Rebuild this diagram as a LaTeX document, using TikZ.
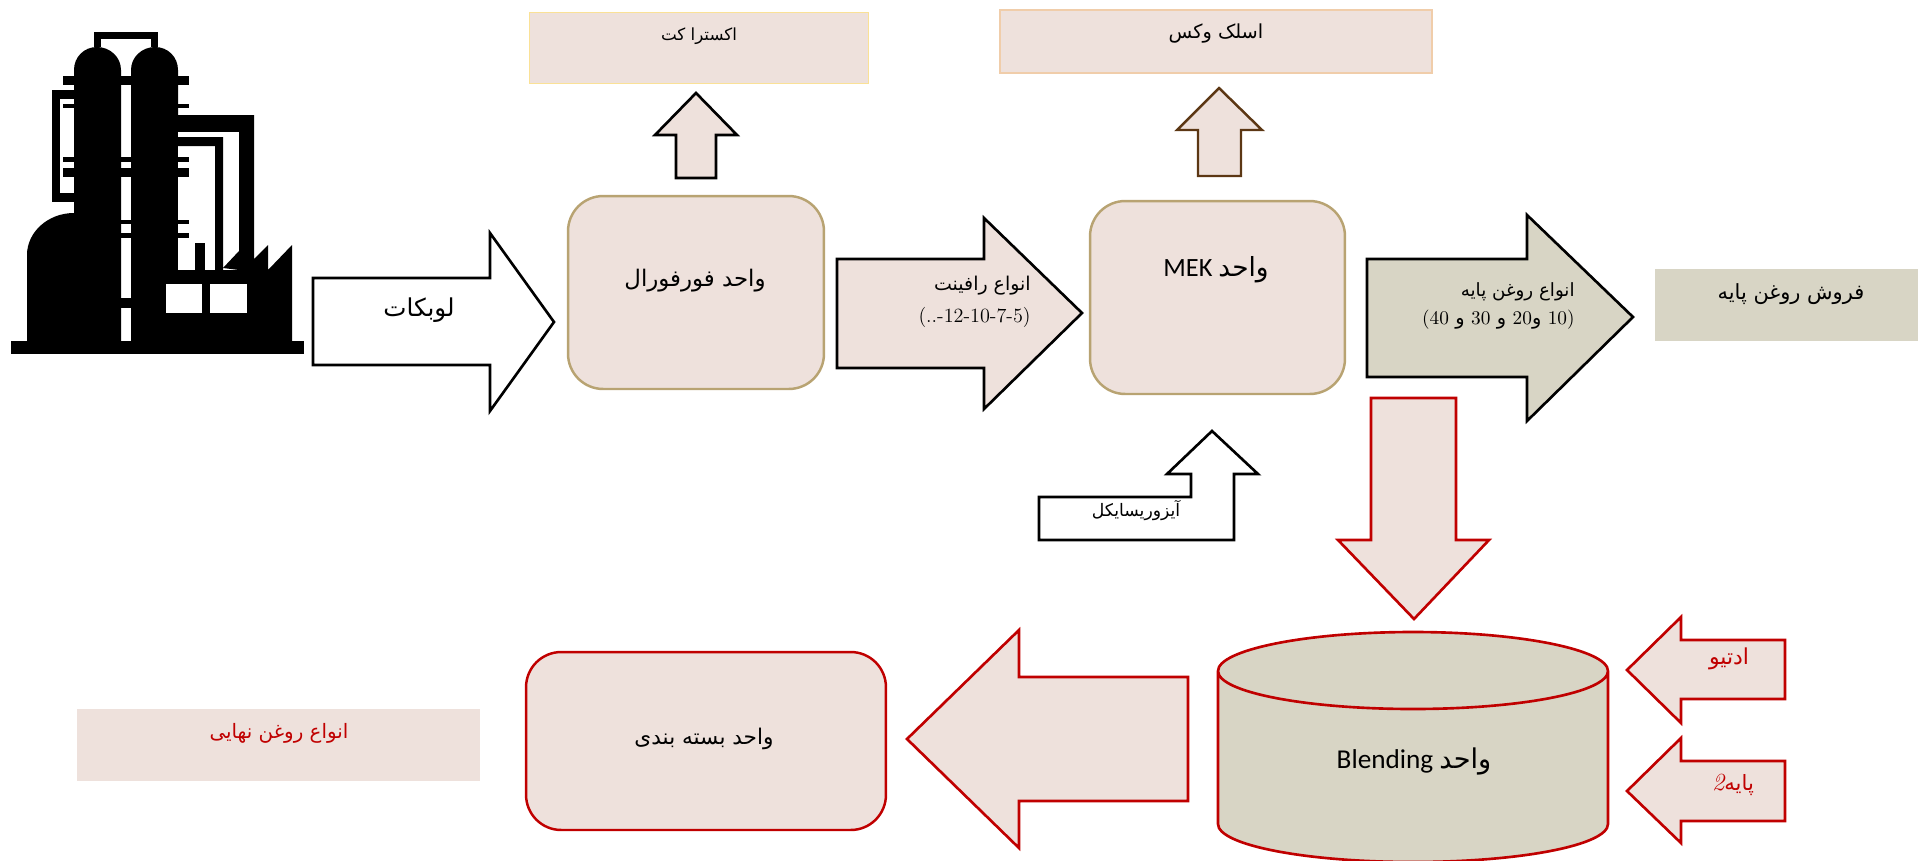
\documentclass[tikz,border=0pt]{standalone}
\usepackage{fontspec}
\setmainfont{Carlito}
\newfontfamily\farsi[Script=Arabic]{DejaVu Sans}
\newfontfamily\numfont{Latin Modern Roman}
\TeXXeTstate=1
\newcommand{\fa}[1]{{\farsi\beginR #1\endR}}
\definecolor{rosefill}{RGB}{238,225,220}
\definecolor{khakifill}{RGB}{216,213,197}
\definecolor{tanline}{RGB}{184,163,114}
\definecolor{redline}{RGB}{192,0,0}
\definecolor{brownline}{RGB}{92,55,20}
\tikzset{
  blockblack/.style={draw=black, line width=1.5pt, miter limit=10},
  blockred/.style={draw=redline, line width=1.5pt, miter limit=10},
  unitbox/.style={draw=tanline, line width=1.4pt, fill=rosefill, rounded corners=20pt},
  redbox/.style={draw=redline, line width=1.4pt, fill=rosefill, rounded corners=20pt},
  lbl/.style={inner sep=0pt, font=\fontsize{#1}{16}\selectfont},
}
\begin{document}
\begin{tikzpicture}[x=0.02cm, y=-0.02cm]
\useasboundingbox (0,0) rectangle (1918,860);
% plant silhouette
\fill (11,341) rectangle (304,354);
\fill (27,341) -- (27,255) .. controls (27,232) and (48,213) .. (74,213) -- (74,70) .. controls (74,57) and (84,47) .. (97,47) .. controls (110,47) and (121,57) .. (121,70) -- (121,341) -- cycle;
\fill (131,341) -- (131,70) .. controls (131,57) and (142,47) .. (155,47) .. controls (168,47) and (178,57) .. (178,70) -- (178,115) -- (254,115) -- (254,259) -- (268,245) -- (268,270) -- (292,245) -- (292,341) -- cycle;
\fill[white] (178,132) rectangle (239,270);
\fill (178,137) -- (223,137) -- (223,270) -- (215,270) -- (215,146) -- (178,146) -- cycle;
\fill (223,268) -- (239,251) -- (239,270) -- cycle;
\fill (178,270) rectangle (239,285);
\fill (195,243) rectangle (205,275);
\fill[white] (166,284) rectangle (202,313);
\fill[white] (210,284) rectangle (247,313);
\draw[line width=3.7pt] (97.5,47) -- (97.5,35.5) -- (154.5,35.5) -- (154.5,47);
\draw[line width=4.6pt] (74,94.5) -- (56,94.5) -- (56,197.5) -- (74,197.5);
\foreach \yy/\hh in {76/9, 157/5, 168/9, 220/4, 233/5} {
  \fill (63,\yy) rectangle (189,\yy+\hh);
}
\fill (63,104) rectangle (74,108);
\fill (178,104) rectangle (189,108);
\fill (121,298) rectangle (131,308);
% feed arrow
\draw[blockblack, fill=white] (313,278) -- (490,278) -- (490,233) -- (554,322) -- (490,411) -- (490,365) -- (313,365) -- cycle;
\node[lbl=14] (feedlabel) at (419,310) {\fa{لوبکات}};
% furfural unit
\node[unitbox, minimum width=256*0.569pt, minimum height=193*0.569pt] (furfural) at (696,292.5) {};
\node[lbl=13] (furfurallabel) at (695,281) {\fa{واحد فورفورال}};
\draw[blockblack, fill=rosefill] (676,178) -- (676,135) -- (655,135) -- (696,93) -- (737,135) -- (716,135) -- (716,178) -- cycle;
\node[draw={rgb,255:red,250;green,225;blue,150}, line width=1pt, fill=rosefill, minimum width=339*0.569pt, minimum height=71*0.569pt] (extractbox) at (699,48) {};
\node[lbl=9.5] (extractlabel) at (699,36) {\fa{اکسترا کت}};
% raffinate arrow
\draw[blockblack, fill=rosefill] (837,259) -- (984,259) -- (984,218) -- (1082,313) -- (984,409) -- (984,368) -- (837,368) -- cycle;
\node[lbl=10.8, anchor=east, align=right] (raffinatelabel) at (1031,302) {\fa{انواع رافینت}\\[2pt]{\fontsize{11.5}{16}\selectfont\numfont(..-12-10-7-5)}};
% MEK unit
\node[unitbox, minimum width=255*0.569pt, minimum height=193*0.569pt] (mekunit) at (1217.5,297.5) {};
\node[lbl=15] (meklabel) at (1216,270) {MEK \fa{واحد}};
\draw[draw=brownline, line width=1.4pt, fill=rosefill, miter limit=10] (1198,176) -- (1198,130) -- (1177,130) -- (1219,88) -- (1262,130) -- (1241,130) -- (1241,176) -- cycle;
\node[draw={rgb,255:red,240;green,205;blue,170}, line width=1pt, fill=rosefill, minimum width=432*0.569pt, minimum height=63*0.569pt] (waxbox) at (1216,41.5) {};
\node[lbl=11] (waxlabel) at (1216,34) {\fa{اسلک وکس}};
% recycle bent arrow
\draw[blockblack, fill=white] (1039,497) -- (1191,497) -- (1191,474) -- (1167,474) -- (1212,431) -- (1258,474) -- (1234,474) -- (1234,540) -- (1039,540) -- cycle;
\node[lbl=9.8] (recyclelabel) at (1136,511) {\fa{آیزوریسایکل}};
% base oil arrow
\draw[blockblack, fill=khakifill] (1367,259) -- (1527,259) -- (1527,215) -- (1633,317) -- (1527,421) -- (1527,377) -- (1367,377) -- cycle;
\node[lbl=10.4, anchor=east, align=right] (baselabel) at (1575,306) {\fa{انواع روغن پایه}\\{\fontsize{11}{16}\selectfont\numfont(40 \fa{و} 30 \fa{و} 20\fa{و} 10)}};
\node[fill=khakifill, minimum width=264*0.569pt, minimum height=72*0.569pt] (salesbox) at (1787,305) {};
\node[lbl=11.9] (saleslabel) at (1791,294) {\fa{فروش روغن پایه}};
% down arrow to blending
\draw[blockred, fill=rosefill] (1371,398) -- (1456,398) -- (1456,540) -- (1489,540) -- (1414,619) -- (1338,540) -- (1371,540) -- cycle;
% blending tank
\draw[blockred, fill=khakifill] (1218,671) -- (1218,824) .. controls (1218,845) and (1305,862) .. (1413,862) .. controls (1521,862) and (1608,845) .. (1608,824) -- (1608,671) .. controls (1608,650) and (1521,632) .. (1413,632) .. controls (1305,632) and (1218,650) .. (1218,671) .. controls (1218,692) and (1305,709) .. (1413,709) .. controls (1521,709) and (1608,692) .. (1608,671);
\node[lbl=15.5] (blendlabel) at (1414,761) {Blending \fa{واحد}};
% additive and base 2 arrows
\draw[blockred, fill=rosefill] (1785,640) -- (1785,699) -- (1681,699) -- (1681,723) -- (1627,670) -- (1681,617) -- (1681,640) -- cycle;
\node[lbl=12.5, text=redline] (additivelabel) at (1729,659) {\fa{ادتیو}};
\draw[blockred, fill=rosefill] (1785,761) -- (1785,821) -- (1681,821) -- (1681,843) -- (1627,791) -- (1681,738) -- (1681,761) -- cycle;
\node[lbl=12, text=redline] (base2label) at (1733,785) {{\fontsize{14}{16}\selectfont\numfont\itshape 2}\fa{پایه}};
% packaging
\draw[blockred, fill=rosefill] (1188,677) -- (1188,801) -- (1019,801) -- (1019,848) -- (907,739) -- (1019,630) -- (1019,677) -- cycle;
\node[redbox, minimum width=360*0.569pt, minimum height=178*0.569pt] (packing) at (706,741) {};
\node[lbl=12.3] (packinglabel) at (704,739) {\fa{واحد بسته بندی}};
\node[fill=rosefill, minimum width=403*0.569pt, minimum height=72*0.569pt] (finalbox) at (278.5,745) {};
\node[lbl=11.3, text=redline] (finallabel) at (279,733) {\fa{انواع روغن نهایی}};
\end{tikzpicture}
\end{document}
